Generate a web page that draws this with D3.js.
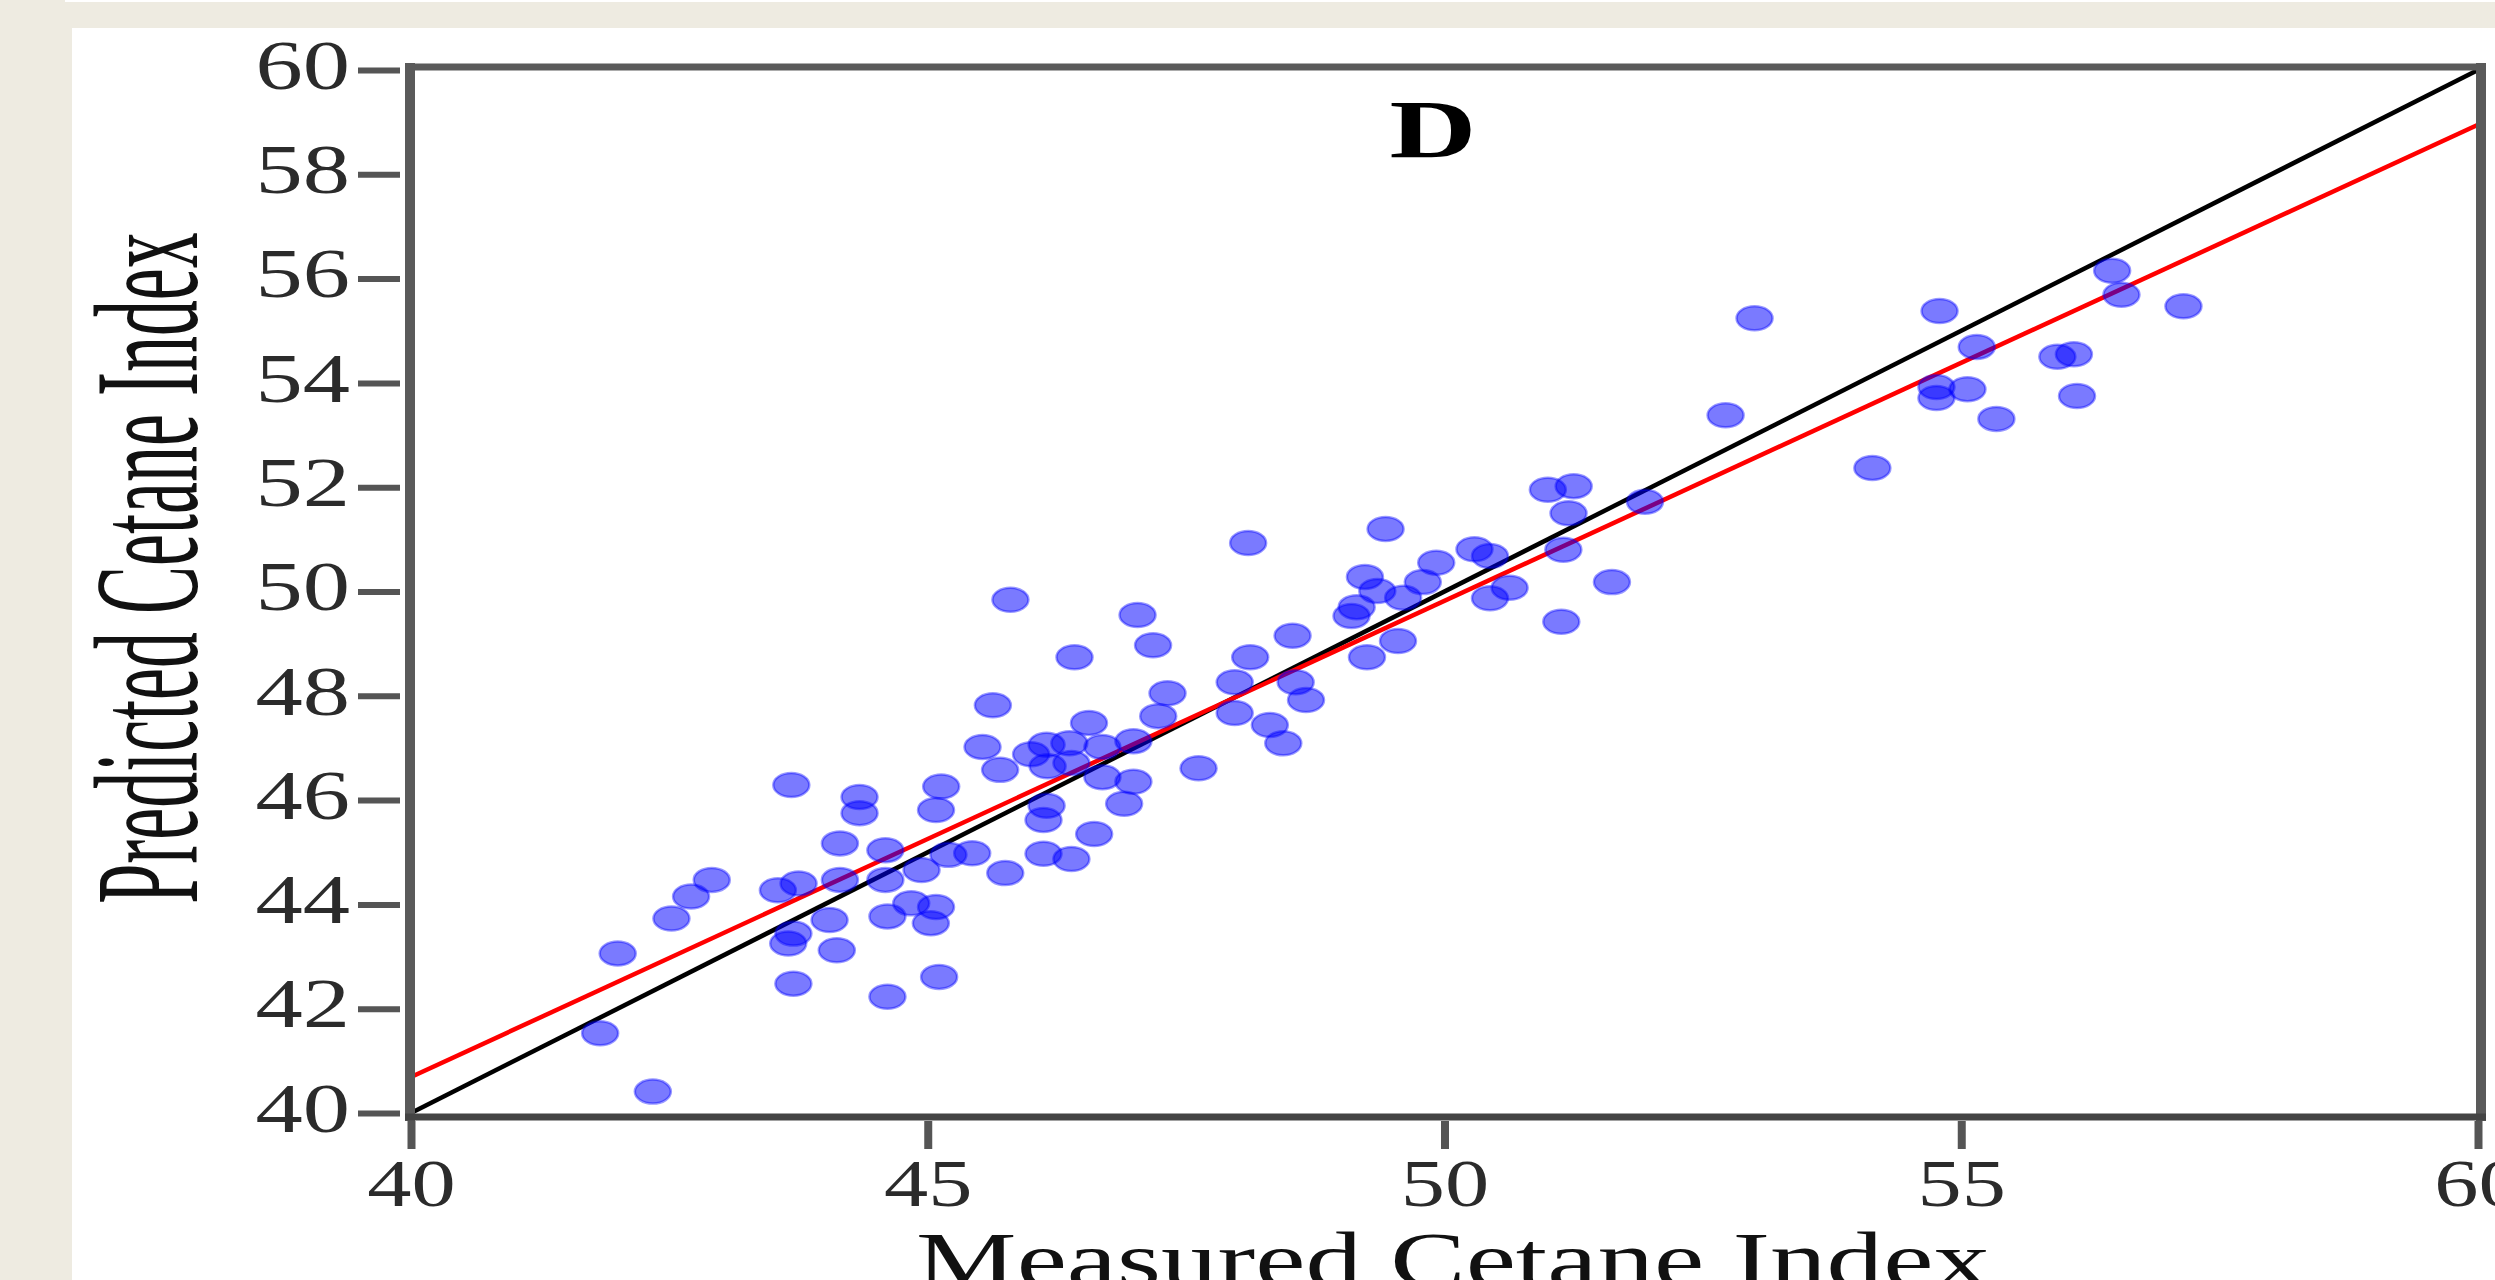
<!DOCTYPE html>
<html>
<head>
<meta charset="utf-8" />
<script src="https://d3js.org/d3.v7.min.js"></script>
<style>
  body {
    margin: 0;
    background-color: #eeebe1;
    overflow: hidden;
  }
  svg { display: block; }
</style>
</head>
<body>
<div id="chart"></div>
<script>

// measured vs predicted cetane index
var measured = [41.83, 42.00, 42.34, 42.52, 42.71, 42.91, 43.55, 43.65, 43.68, 43.70,
  43.70, 43.75, 44.05, 44.12, 44.15, 44.15, 44.34, 44.34, 44.59, 44.59,
  44.61, 44.61, 44.84, 44.94, 45.03, 45.08, 45.08, 45.11, 45.13, 45.20,
  45.43, 45.53, 45.63, 45.70, 45.75, 45.80, 46.00, 46.12, 46.12, 46.15,
  46.15, 46.16, 46.39, 46.39, 46.37, 46.42, 46.56, 46.61, 46.69, 46.69,
  46.90, 46.99, 46.99, 47.03, 47.18, 47.23, 47.32, 47.62, 47.97, 47.97,
  48.10, 48.12, 48.31, 48.44, 48.53, 48.56, 48.66, 49.10, 49.15, 49.23,
  49.25, 49.35, 49.43, 49.55, 49.60, 49.79, 49.92, 50.29, 50.44, 50.44,
  50.63, 51.00, 51.13, 51.15, 51.20, 51.25, 51.62, 51.94, 52.72, 53.00,
  54.14, 54.76, 54.76, 54.79, 55.06, 55.15, 55.34, 55.93, 56.09, 56.12,
  56.46, 56.55, 57.15];
var predicted = [41.53, 43.06, 40.41, 43.73, 44.15, 44.47, 44.27, 43.25, 46.29, 43.44,
  42.48, 44.40, 43.70, 43.12, 44.47, 45.17, 46.06, 45.75, 45.04, 44.47,
  43.77, 42.23, 44.02, 44.66, 43.64, 43.95, 45.81, 42.61, 46.26, 44.95,
  44.98, 47.02, 47.82, 46.58, 44.60, 49.84, 46.88, 44.97, 45.62, 45.89,
  47.06, 46.65, 44.87, 46.71, 47.09, 48.74, 47.48, 45.35, 47.02, 46.44,
  45.93, 46.35, 47.13, 49.55, 48.97, 47.61, 48.05, 46.61, 48.26, 47.67,
  50.93, 48.74, 47.44, 47.09, 49.15, 48.26, 47.92, 49.53, 49.70, 50.28,
  48.74, 50.01, 51.20, 49.05, 49.88, 50.18, 50.55, 50.81, 50.68, 49.87,
  50.07, 51.95, 49.42, 50.80, 51.50, 52.02, 50.18, 51.72, 53.38, 55.24,
  52.37, 53.92, 53.71, 55.38, 53.88, 54.69, 53.31, 54.50, 54.55, 53.75,
  56.15, 55.69, 55.47];

var xTicks = [40, 45, 50, 55, 60];
var yTicks = [40, 42, 44, 46, 48, 50, 52, 54, 56, 58, 60];

// 1:1 line and fitted regression line (end points)
var identityX = [40, 60];
var identityY = [40, 60];
var fitX = [40, 60];
var fitY = [40.69, 58.95];

var panelLabel = "D";
var xTitle = "Measured Cetane Index";
var yTitle = "Predicted Cetane Index";

var width = 2495, height = 1280;
var plot = {left: 411, right: 2478, top: 70, bottom: 1113};
var serif = "'Liberation Serif', 'Times New Roman', serif";

var x = d3.scaleLinear().domain([40, 60]).range([plot.left, plot.right]);
var y = d3.scaleLinear().domain([40, 60]).range([plot.bottom, plot.top]);

var svg = d3.select("#chart")
  .append("svg")
  .attr("width", width)
  .attr("height", height);

// white panel on the beige page
svg.append("rect")
  .attr("x", 72).attr("y", 28)
  .attr("width", width - 72).attr("height", height - 28)
  .attr("fill", "#ffffff");
svg.append("rect")
  .attr("x", 65).attr("y", 0)
  .attr("width", width - 65).attr("height", 2)
  .attr("fill", "#ffffff");

// reference lines
var line = d3.line()
  .x(function(d) { return x(d[0]); })
  .y(function(d) { return y(d[1]); });

svg.append("path")
  .datum(d3.zip(identityX, identityY))
  .attr("d", line)
  .attr("fill", "none")
  .attr("stroke", "#000000")
  .attr("stroke-width", 4.5);

svg.append("path")
  .datum(d3.zip(fitX, fitY))
  .attr("d", line)
  .attr("fill", "none")
  .attr("stroke", "#ff0000")
  .attr("stroke-width", 4.5);

// points, semi transparent blue
svg.append("g")
  .selectAll("ellipse")
  .data(d3.zip(measured, predicted))
  .enter()
  .append("ellipse")
  .attr("cx", function(d) { return x(d[0]); })
  .attr("cy", function(d) { return y(d[1]); })
  .attr("rx", 18)
  .attr("ry", 12)
  .attr("fill", "#0000ff")
  .attr("fill-opacity", 0.52)
  .attr("stroke", "#0000ff")
  .attr("stroke-opacity", 0.4)
  .attr("stroke-width", 2.5);

// frame
var frameColor = "#5a5a5a";
svg.append("line")
  .attr("x1", x(40) - 1).attr("x2", x(40) - 1)
  .attr("y1", y(60) - 7).attr("y2", y(40) + 8)
  .attr("stroke", frameColor).attr("stroke-width", 10);
svg.append("line")
  .attr("x1", x(60) + 3).attr("x2", x(60) + 3)
  .attr("y1", y(60) - 7).attr("y2", y(40) + 8)
  .attr("stroke", frameColor).attr("stroke-width", 10);
svg.append("line")
  .attr("x1", x(40) - 6).attr("x2", x(60) + 8)
  .attr("y1", y(60) - 3).attr("y2", y(60) - 3)
  .attr("stroke", frameColor).attr("stroke-width", 7);
svg.append("line")
  .attr("x1", x(40) - 6).attr("x2", x(60) + 8)
  .attr("y1", y(40) + 4).attr("y2", y(40) + 4)
  .attr("stroke", "#444444").attr("stroke-width", 7);

// y axis ticks
var yAxis = svg.append("g")
  .attr("transform", "translate(" + (x(40) - 11) + ",0)")
  .call(d3.axisLeft(y).tickValues(yTicks).tickSize(42).tickPadding(8).tickFormat(d3.format("d")));
yAxis.select(".domain").remove();
yAxis.selectAll(".tick line").attr("stroke", "#555555").attr("stroke-width", 6);
yAxis.selectAll(".tick text")
  .attr("x", -50 / 1.35)
  .attr("dy", "0.26em")
  .attr("transform", "scale(1.35,1)")
  .style("font-family", serif)
  .style("font-size", "70px")
  .style("fill", "#2b2b2b");

// x axis ticks
var xAxis = svg.append("g")
  .attr("transform", "translate(0," + (y(40) + 8) + ")")
  .call(d3.axisBottom(x).tickValues(xTicks).tickSize(28).tickPadding(9).tickFormat(d3.format("d")));
xAxis.select(".domain").remove();
xAxis.selectAll(".tick line").attr("stroke", "#555555").attr("stroke-width", 8);
xAxis.selectAll(".tick text")
  .attr("transform", "scale(1.3,1)")
  .style("font-family", serif)
  .style("font-size", "68px")
  .style("fill", "#2b2b2b");

// titles
svg.append("text")
  .attr("transform", "translate(" + 1453 + "," + 1286 + ") scale(1.45,1)")
  .attr("text-anchor", "middle")
  .style("font-family", serif)
  .style("font-size", "78px")
  .style("fill", "#111111")
  .text(xTitle);

svg.append("text")
  .attr("transform", "translate(" + 197 + "," + 568 + ") rotate(-90) scale(1,2.05)")
  .attr("text-anchor", "middle")
  .style("font-family", serif)
  .style("font-size", "72px")
  .style("fill", "#111111")
  .text(yTitle);

svg.append("text")
  .attr("transform", "translate(" + 1433 + "," + 157 + ") scale(1.45,1)")
  .attr("text-anchor", "middle")
  .style("font-family", serif)
  .style("font-weight", "bold")
  .style("font-size", "83px")
  .style("fill", "#000000")
  .text(panelLabel);

</script>
</body>
</html>
